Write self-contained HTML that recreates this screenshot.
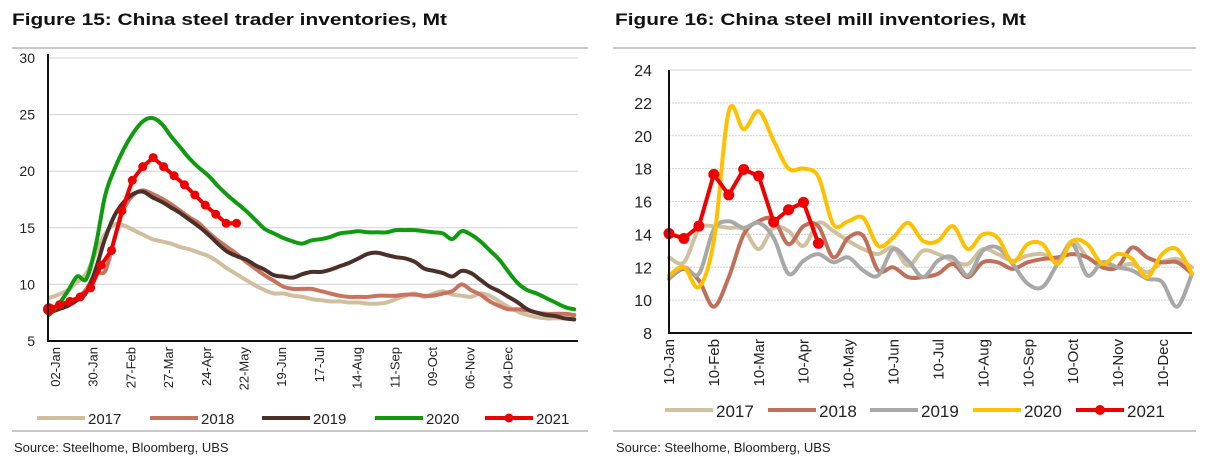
<!DOCTYPE html>
<html><head><meta charset="utf-8"><style>
html,body{margin:0;padding:0;background:#fff;}
svg{display:block;font-family:"Liberation Sans",sans-serif;}
</style></head><body>
<svg id="root" width="1206" height="462" viewBox="0 0 1206 462">
<text x="12" y="25" font-size="17" font-weight="bold" fill="#111" textLength="435" lengthAdjust="spacingAndGlyphs">Figure 15: China steel trader inventories, Mt</text>
<text x="615" y="25" font-size="17" font-weight="bold" fill="#111" textLength="411" lengthAdjust="spacingAndGlyphs">Figure 16: China steel mill inventories, Mt</text>
<line x1="12" y1="48" x2="588" y2="48" stroke="#c8c8c8" stroke-width="2"/>
<line x1="613" y1="48" x2="1196" y2="48" stroke="#c8c8c8" stroke-width="2"/>
<line x1="12" y1="431" x2="588" y2="431" stroke="#c8c8c8" stroke-width="2"/>
<line x1="613" y1="431" x2="1196" y2="431" stroke="#c8c8c8" stroke-width="2"/>
<text x="14" y="452" font-size="13" fill="#222">Source:  Steelhome, Bloomberg, UBS</text>
<text x="616" y="452" font-size="13" fill="#222">Source:  Steelhome, Bloomberg, UBS</text>
<g id="c1"></g>
<g id="c2"></g>
</svg>
<script>
// ---- Figure 15 data (weekly-ish samples) ----
const f15Ticks = [5,10,15,20,25,30];
const f15Labels = ["02-Jan","30-Jan","27-Feb","27-Mar","24-Apr","22-May","19-Jun","17-Jul","14-Aug","11-Sep","09-Oct","06-Nov","04-Dec"];
const f15Years = ["2017","2018","2019","2020","2021"];
const f15_2017 = [8.8,9.1,9.5,10.2,11.0,12.8,14.5,15.3,15.2,14.8,14.4,14.0,13.8,13.6,13.3,13.1,12.8,12.5,12.0,11.4,10.9,10.4,9.9,9.5,9.2,9.2,9.0,8.9,8.7,8.6,8.5,8.5,8.4,8.4,8.3,8.3,8.4,8.7,9.0,9.2,8.9,9.2,9.4,9.1,9.0,8.9,9.2,9.0,8.5,8.0,7.6,7.3,7.1,7.0,7.0,7.0,7.0];
const f15_2018 = [7.6,7.8,8.4,8.8,9.6,11.0,11.2,14.1,16.7,17.9,18.3,18.0,17.6,17.1,16.5,15.9,15.4,14.6,13.9,13.3,12.7,12.0,11.4,10.8,10.3,9.8,9.6,9.6,9.6,9.4,9.2,9.0,8.9,8.9,8.9,9.0,9.0,9.0,9.1,9.1,9.0,9.0,9.2,9.4,10.0,9.5,9.1,8.5,8.1,7.8,7.8,7.7,7.5,7.4,7.4,7.4,7.3];
const f15_2019 = [7.5,7.8,8.1,8.6,9.3,11.4,14.1,16.1,17.3,18.0,18.2,17.7,17.3,16.8,16.3,15.7,15.1,14.4,13.6,12.9,12.5,12.2,11.7,11.3,10.8,10.7,10.6,10.9,11.1,11.1,11.3,11.6,11.9,12.3,12.7,12.8,12.6,12.4,12.3,12.0,11.4,11.2,11.0,10.7,11.2,11.0,10.4,9.8,9.4,8.9,8.4,7.8,7.5,7.3,7.2,7.0,6.9];
const f15_2020 = [7.3,8.2,9.4,10.7,10.5,13.5,17.9,20.2,22.0,23.4,24.4,24.7,24.2,23.1,22.1,21.1,20.3,19.6,18.7,17.9,17.2,16.5,15.7,14.9,14.5,14.1,13.8,13.6,13.9,14.0,14.2,14.5,14.6,14.7,14.6,14.6,14.6,14.8,14.8,14.8,14.7,14.6,14.5,14.0,14.7,14.4,13.8,13.0,12.2,11.1,10.1,9.5,9.2,8.8,8.4,8.0,7.8];
const f15_2021 = [7.8,8.2,8.5,8.9,9.7,11.7,13.0,16.5,19.2,20.4,21.2,20.4,19.6,18.8,17.9,17.0,16.2,15.4,15.4];

// ---- Figure 16 data (10-day samples) ----
const f16Ticks = [8,10,12,14,16,18,20,22,24];
const f16Labels = ["10-Jan","10-Feb","10-Mar","10-Apr","10-May","10-Jun","10-Jul","10-Aug","10-Sep","10-Oct","10-Nov","10-Dec"];
const f16Years = ["2017","2018","2019","2020","2021"];
const f16_2017 = [12.6,12.3,14.3,14.5,14.4,14.3,13.1,14.4,14.2,13.3,14.7,14.2,13.6,13.1,12.8,13.2,12.1,13.0,12.8,12.4,12.2,13.1,12.8,12.4,12.7,12.8,12.4,13.6,12.6,12.1,12.0,12.2,11.7,12.3,12.5,12.0];
const f16_2018 = [11.3,11.9,11.2,9.6,11.4,14.0,14.8,14.9,13.4,14.5,14.5,12.6,13.8,13.9,11.8,12.0,11.4,11.4,11.6,12.2,11.4,12.3,12.3,11.9,12.3,12.5,12.6,12.8,12.6,12.0,12.0,13.2,12.6,12.3,12.3,11.6];
const f16_2019 = [11.3,12.0,11.6,14.3,14.8,14.4,14.7,13.8,11.6,12.4,12.8,12.3,12.6,11.8,11.5,13.1,12.4,11.4,12.4,12.6,11.5,13.0,13.2,12.2,11.0,10.8,12.2,13.4,11.5,12.3,12.0,11.8,11.3,11.1,9.6,11.6];
const f16_2020 = [11.5,12.0,10.8,13.6,21.5,20.4,21.5,19.7,18.0,18.0,17.5,14.6,14.8,15.0,13.3,13.8,14.7,13.6,13.6,14.5,13.1,14.0,13.8,12.3,13.4,13.4,12.2,13.6,13.4,12.2,12.8,12.5,11.4,12.8,13.1,11.6];
const f16_2021 = [14.05,13.75,14.5,17.65,16.4,17.95,17.55,14.75,15.5,15.95,13.45];

const NS="http://www.w3.org/2000/svg";
function mk(parent,tag,attrs,text){const e=document.createElementNS(NS,tag);for(const k in attrs)e.setAttribute(k,attrs[k]);if(text!==undefined)e.textContent=text;parent.appendChild(e);return e;}
function smooth(pts){
  if(pts.length<2)return "";
  let d="M"+pts[0][0].toFixed(1)+","+pts[0][1].toFixed(1);
  for(let i=0;i<pts.length-1;i++){
    const p0=pts[Math.max(0,i-1)],p1=pts[i],p2=pts[i+1],p3=pts[Math.min(pts.length-1,i+2)];
    const c1=[p1[0]+(p2[0]-p0[0])/6,p1[1]+(p2[1]-p0[1])/6];
    const c2=[p2[0]-(p3[0]-p1[0])/6,p2[1]-(p3[1]-p1[1])/6];
    d+="C"+c1[0].toFixed(1)+","+c1[1].toFixed(1)+" "+c2[0].toFixed(1)+","+c2[1].toFixed(1)+" "+p2[0].toFixed(1)+","+p2[1].toFixed(1);
  }
  return d;
}

// ---------- Figure 15 ----------
(function(){
  const g=document.getElementById('c1');
  const L=48,R=578,T=58,B=341,vmin=5,vmax=30;
  const y=v=>B-(v-vmin)/(vmax-vmin)*(B-T);
  const weekPx=10.42, sampleStep=0.9, labelPx=37.7;
  const xw=w=>49+w*weekPx;
  f15Ticks.forEach(t=>{
    if(t>vmin){const gl=mk(g,'line',{x1:L,x2:R,y1:y(t),y2:y(t),stroke:'#d4d0d8','stroke-width':1});
    
    }
    const tl=mk(g,'text',{x:35,y:y(t)+5,'font-size':14,'text-anchor':'end',fill:'#222'},String(t));
    
    
  });
  f15Labels.forEach((lab,k)=>{
    const cx=60+k*labelPx;
    const tl=mk(g,'text',{x:0,y:0,'font-size':13,'text-anchor':'end',fill:'#222',transform:`translate(${cx},${B+6}) rotate(-90)`},lab);
    
    
  });
  const series=[[f15_2017,'#cfbf9f'],[f15_2018,'#c8735e'],[f15_2019,'#4a3028'],[f15_2020,'#109a10']];
  series.forEach((s,si)=>{
    const pts=s[0].map((v,i)=>[xw(i*sampleStep),y(v)]);
    const p=mk(g,'path',{d:smooth(pts),fill:'none',stroke:s[1],'stroke-width':4,'stroke-linejoin':'round','stroke-linecap':'round'});
    
    
  });
  const rp=f15_2021.map((v,i)=>[xw(i),y(v)]);
  const rl=mk(g,'path',{d:'M'+rp.map(p=>p[0].toFixed(1)+','+p[1].toFixed(1)).join('L'),fill:'none',stroke:'#ee0000','stroke-width':4,'stroke-linejoin':'round'});
  
  
  rp.forEach((p,i)=>{const c=mk(g,'circle',{cx:p[0],cy:p[1],r:i===0?6:4.5,fill:'#ee0000'});
    
    });
  const ax=mk(g,'path',{d:`M${L},${T-4}V${B}H${R}`,fill:'none',stroke:'#111','stroke-width':2});
  
  
  const lx=[37,150,262,375,485];
  const cols=['#cfbf9f','#c8735e','#4a3028','#109a10','#ee0000'];
  f15Years.forEach((yr,i)=>{
    const lg=mk(g,'g',{});
    
    
    mk(lg,'line',{x1:lx[i],x2:lx[i]+48,y1:418,y2:418,stroke:cols[i],'stroke-width':4});
    if(i===4)mk(lg,'circle',{cx:lx[i]+24,cy:418,r:4.5,fill:cols[i]});
    mk(lg,'text',{x:lx[i]+51,y:424,'font-size':15,fill:'#222'},yr);
  });
})();

// ---------- Figure 16 ----------
(function(){
  const g=document.getElementById('c2');
  const L=669,R=1192,T=70,B=333,vmin=8,vmax=24;
  const y=v=>B-(v-vmin)/(vmax-vmin)*(B-T);
  const step=(R-L)/35;
  const xi=i=>L+i*step;
  const monthPx=(1162-668)/11;
  f16Ticks.forEach(t=>{
    if(t>vmin){const gl=mk(g,'line',{x1:L,x2:R,y1:y(t),y2:y(t),stroke:'#d0d4d0','stroke-width':1,'stroke-dasharray':t===24?'none':'2,1'});
    
    }
    const tl=mk(g,'text',{x:652,y:y(t)+6,'font-size':16,'text-anchor':'end',fill:'#222'},String(t));
    
    
  });
  f16Labels.forEach((lab,k)=>{
    const cx=668+k*monthPx+6;
    const tl=mk(g,'text',{x:0,y:0,'font-size':15,'text-anchor':'end',fill:'#222',transform:`translate(${cx},${B+6}) rotate(-90)`},lab);
    
    
  });
  const series=[[f16_2017,'#cfc0a0'],[f16_2018,'#c0705a'],[f16_2019,'#a8a8a8'],[f16_2020,'#ffc000']];
  series.forEach((s,si)=>{
    const pts=s[0].map((v,i)=>[xi(i),y(v)]);
    const p=mk(g,'path',{d:smooth(pts),fill:'none',stroke:s[1],'stroke-width':4,'stroke-linejoin':'round','stroke-linecap':'round'});
    
    
  });
  const rp=f16_2021.map((v,i)=>[xi(i),y(v)]);
  const rl=mk(g,'path',{d:'M'+rp.map(p=>p[0].toFixed(1)+','+p[1].toFixed(1)).join('L'),fill:'none',stroke:'#ee0000','stroke-width':4,'stroke-linejoin':'round'});
  
  
  rp.forEach(p=>{const c=mk(g,'circle',{cx:p[0],cy:p[1],r:5.5,fill:'#ee0000'});
    
    });
  const ax=mk(g,'path',{d:`M${L},${T}V${B}H${R}`,fill:'none',stroke:'#111','stroke-width':2});
  
  
  const lx=[665,768,870,973,1076];
  const cols=['#cfc0a0','#c0705a','#a8a8a8','#ffc000','#ee0000'];
  f16Years.forEach((yr,i)=>{
    const lg=mk(g,'g',{});
    
    
    mk(lg,'line',{x1:lx[i],x2:lx[i]+48,y1:410,y2:410,stroke:cols[i],'stroke-width':4});
    if(i===4)mk(lg,'circle',{cx:lx[i]+24,cy:410,r:5,fill:cols[i]});
    mk(lg,'text',{x:lx[i]+51,y:417,'font-size':17,fill:'#222'},yr);
  });
})();
</script>
</body></html>
